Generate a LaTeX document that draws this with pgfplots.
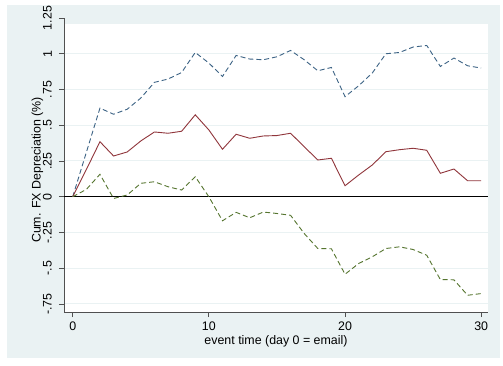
\documentclass[border=0pt]{standalone}
\usepackage{fontspec}
\setmainfont{Liberation Sans}
\usepackage{pgfplots}
\pgfplotsset{compat=1.18}
\definecolor{bgc}{HTML}{EAF2F3}
\definecolor{navyc}{HTML}{1A476F}
\definecolor{maroonc}{HTML}{90353B}
\definecolor{greenc}{HTML}{55752F}
\definecolor{axc}{HTML}{505050}
\begin{document}
\begin{tikzpicture}
\useasboundingbox (-64pt,-53pt) rectangle (439pt,312pt);
\fill[white] (-64pt,-53pt) rectangle (439pt,312pt);
\fill[bgc] (-57pt,-46pt) rectangle (436pt,307pt);
\fill[white] (0pt,0pt) rectangle (424pt,288pt);
\begin{axis}[
  at={(0pt,0pt)}, anchor=south west,
  scale only axis, width=424pt, height=294pt,
  xmin=-0.64, xmax=30.5, ymin=-0.806, ymax=1.25,
  axis x line*=bottom, axis y line*=left,
  axis line style={axc, line width=0.8pt, -},
  tick style={axc, line width=0.8pt},
  tick align=outside, major tick length=5pt,
  xtick={0,10,20,30}, xticklabels={0,10,20,30},
  ytick={-0.75,-0.5,-0.25,0,0.25,0.5,0.75,1,1.25},
  yticklabels={-.75,-.5,-.25,0,.25,.5,.75,1,1.25},
  tick label style={font=\fontsize{12.4}{14}\selectfont},
  xticklabel style={inner sep=0pt, anchor=north, yshift=-4.7pt},
  yticklabel style={xshift=-7pt, rotate=90, anchor=south, inner sep=0pt},
  ymajorgrids, grid style={bgc, line width=1pt},
  xlabel={event time (day 0 = email)},
  ylabel={Cum. FX Depreciation (\%)},
  label style={font=\fontsize{12.4}{14}\selectfont},
  xlabel style={at={(axis description cs:0.5,-0.0986)}, anchor=center},
  ylabel style={at={(axis description cs:-0.0625,0.483)}, anchor=center},
  clip=false,
]
\addplot[black, line width=0.8pt, forget plot] coordinates {(-0.64,0) (30.5,0)};
\addplot[navyc!85!white, line width=0.9pt, dash pattern=on 5pt off 3pt] coordinates {
(0,0) (1,0.31) (2,0.62) (3,0.577) (4,0.612) (5,0.69) (6,0.80) (7,0.823) (8,0.869) (9,1.009) (10,0.935)
(11,0.841) (12,0.988) (13,0.963) (14,0.958) (15,0.979) (16,1.023) (17,0.958) (18,0.881) (19,0.904) (20,0.70)
(21,0.776) (22,0.865) (23,1.0) (24,1.009) (25,1.047) (26,1.058) (27,0.911) (28,0.97) (29,0.916) (30,0.90)};
\addplot[maroonc, line width=0.9pt] coordinates {
(0,0) (1,0.19) (2,0.385) (3,0.285) (4,0.313) (5,0.39) (6,0.453) (7,0.444) (8,0.458) (9,0.573) (10,0.467)
(11,0.332) (12,0.437) (13,0.409) (14,0.425) (15,0.428) (16,0.444) (17,0.35) (18,0.257) (19,0.269) (20,0.077)
(21,0.152) (22,0.222) (23,0.315) (24,0.329) (25,0.339) (26,0.325) (27,0.164) (28,0.194) (29,0.112) (30,0.112)};
\addplot[greenc, line width=0.9pt, dash pattern=on 5pt off 3pt] coordinates {
(0,0) (1,0.051) (2,0.157) (3,-0.012) (4,0.012) (5,0.094) (6,0.105) (7,0.07) (8,0.047) (9,0.14) (10,0.0)
(11,-0.168) (12,-0.109) (13,-0.147) (14,-0.107) (15,-0.117) (16,-0.13) (17,-0.257) (18,-0.362) (19,-0.364) (20,-0.542)
(21,-0.467) (22,-0.42) (23,-0.362) (24,-0.35) (25,-0.369) (26,-0.409) (27,-0.579) (28,-0.581) (29,-0.689) (30,-0.677)};
\end{axis}
\end{tikzpicture}
\end{document}
